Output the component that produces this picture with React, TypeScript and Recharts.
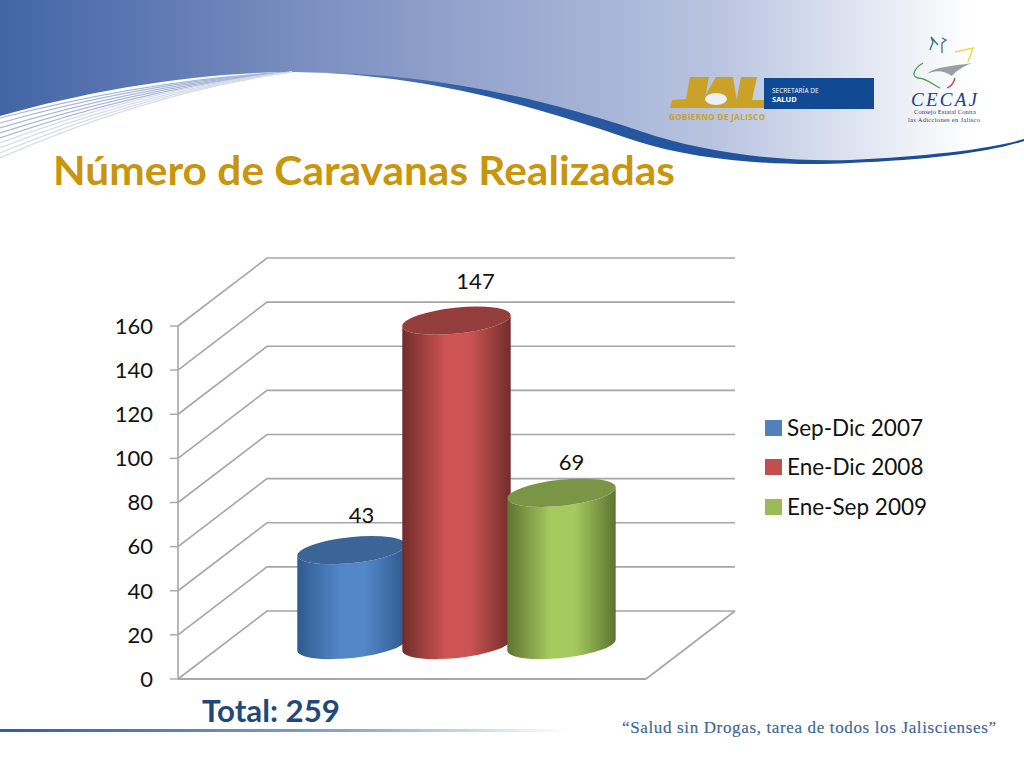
import React from 'react';
import { BarChart, Bar, XAxis, YAxis, CartesianGrid, Legend, LabelList } from 'recharts';

const categories = ['Caravanas'];
const seriesNames = ['Sep-Dic 2007', 'Ene-Dic 2008', 'Ene-Sep 2009'];
const seriesValues = [43, 147, 69];
const seriesKeys = ['a', 'b', 'c'];
const legendColors = ['#4f81bd', '#c0504d', '#9bbb59'];
const edgeColors = ['#2f5a8f', '#702d2b', '#5c7431'];
const midColors = ['#5487c8', '#cd5452', '#a6ca5f'];
const capColors = ['#3c6496', '#933e3c', '#7a9545'];
const yTicks = [0, 20, 40, 60, 80, 100, 120, 140, 160];

const tableRow: Record<string, string | number> = { name: categories[0] };
seriesKeys.forEach((k, i) => {
  tableRow[k] = seriesValues[i];
});
const table = [tableRow];

const LATO = 'Lato, sans-serif';
const GRID = '#a6a6a6';

// 3D projection of the old Excel chart: front plane to back wall
const DEPTH_X = 89;
const DEPTH_Y = 68;
const FRONT_W = 468;
// cylinders stand about half way into the floor
const MID_X = 44;
const MID_Y = 34;
const RY = 13;
const TILT = -6;
const LABEL_NUDGE = [
  { x: 10, y: -35 },
  { x: 19, y: -40 },
  { x: 10, y: -31 },
];

function Cylinder(props: any) {
  const { x, y, width, height, index } = props;
  const i = props.seriesIndex ?? index;
  const cx = x + width / 2 + MID_X;
  const rx = width / 2;
  const rad = (TILT * Math.PI) / 180;
  const ox = rx * Math.cos(rad);
  const oy = rx * Math.sin(rad);
  const top = y - MID_Y;
  const bottom = y + height - MID_Y;
  const side = `M${cx - ox},${top - oy} L${cx - ox},${bottom - oy} A${rx},${RY} ${TILT} 0 0 ${cx + ox},${bottom + oy} L${cx + ox},${top + oy} A${rx},${RY} ${TILT} 0 1 ${cx - ox},${top - oy} Z`;
  return (
    <g>
      <path d={side} fill={`url(#cyl${i})`} />
      <ellipse cx={cx} cy={top} rx={rx} ry={RY} fill={capColors[i]} transform={`rotate(${TILT} ${cx} ${top})`} />
    </g>
  );
}

function WallLine(props: any) {
  const { x1, y1, x2, y2 } = props;
  const backX = x1 + DEPTH_X;
  const backY = y1 - DEPTH_Y;
  const isFloor = Math.abs(y1 - props.floorY) < 1;
  return (
    <g>
      <polyline
        points={`${x1},${y1} ${backX},${backY} ${x2 + DEPTH_X},${backY}`}
        fill="none"
        stroke={GRID}
        strokeWidth={1.6}
      />
      {isFloor && (
        <line x1={x2} y1={y2} x2={x2 + DEPTH_X} y2={backY} stroke={GRID} strokeWidth={1.6} />
      )}
    </g>
  );
}

function LegendBox({ payload }: any) {
  return (
    <div style={{ fontFamily: LATO, fontSize: 22.5, color: '#111' }}>
      {(payload || []).map((p: any) => (
        <div key={p.value} style={{ display: 'flex', alignItems: 'center', height: 39.5 }}>
          <span style={{ width: 17, height: 16, background: p.color, marginRight: 5 }} />
          <span style={{ whiteSpace: 'nowrap', lineHeight: '26px' }}>{p.value}</span>
        </div>
      ))}
    </div>
  );
}

function SlideBackground() {
  const stripes = [0, 1, 2, 3, 4, 5, 6, 7, 8];
  return (
    <svg width={1024} height={768} style={{ position: 'absolute', left: 0, top: 0 }}>
      <defs>
        <linearGradient id="band" x1="0" y1="0" x2="1" y2="0">
          <stop offset="0%" stopColor="#4265a6" />
          <stop offset="30%" stopColor="#7b8ec0" />
          <stop offset="70%" stopColor="#b9c4e0" />
          <stop offset="95%" stopColor="#ffffff" />
        </linearGradient>
        <linearGradient id="swoosh" x1="0" y1="0" x2="1" y2="0">
          <stop offset="0%" stopColor="#6f8cc0" />
          <stop offset="25%" stopColor="#2b5ba3" />
          <stop offset="100%" stopColor="#164a94" />
        </linearGradient>
        <linearGradient id="rule" x1="0" y1="0" x2="1" y2="0">
          <stop offset="0%" stopColor="#2f5ea3" />
          <stop offset="60%" stopColor="#8ba2cc" />
          <stop offset="100%" stopColor="#ffffff" />
        </linearGradient>
      </defs>
      <rect x={0} y={0} width={1024} height={170} fill="url(#band)" />
      <path
        d="M0,116 C90,90 200,72 295,72 C430,72 540,105 640,138 C710,160 790,165 850,162 C930,158 990,150 1024,140 L1024,768 L0,768 Z"
        fill="#fff"
      />
      {stripes.map((s) => (
        <path
          key={s}
          d={`M0,${118 + s * 5} C70,${100 + s * 3.4} 170,${78 + s * 1.4} 292,72`}
          fill="none"
          stroke={s < 5 ? '#a9b8d8' : '#d5dbe8'}
          strokeWidth={1.2}
        />
      ))}
      <path
        d="M295,72 C430,72 540,98 640,131 C710,155 790,162 850,160 C930,156 990,149 1024,139 L1024,141 C990,152 930,160 850,163 C790,166 705,163 636,141 C540,108 430,74 295,72 Z"
        fill="url(#swoosh)"
      />

      <g fill="#c9a227">
        <polygon points="690,77 709,77 703,108 670,108 672,100 686,99" />
        <polygon points="716,77 733,77 738,108 698,108" />
        <polygon points="741,77 757,77 752,100 765,100 765,108 735,108" />
      </g>
      <ellipse cx={716} cy={99} rx={11} ry={6} fill="#eceff7" />
      <rect x={764} y={78} width={110} height={31} fill="#0f4a93" />
      <text x={772} y={93} fontFamily="'Open Sans', sans-serif" fontSize={6.5} fill="#fff">SECRETARÍA DE</text>
      <text x={772} y={102} fontFamily="'Open Sans', sans-serif" fontWeight={700} fontSize={7.5} fill="#fff">SALUD</text>
      <text x={669} y={120} fontFamily="'Open Sans', sans-serif" fontWeight={700} fontSize={8} fill="#c9a227" textLength={96}>GOBIERNO DE JALISCO</text>

      <path d="M930,50 L933,42 L931,37 L938,45 M942,53 L942,43 L946,40 L942,38" fill="none" stroke="#2b6f8f" strokeWidth={1.3} />
      <path d="M955,52 L973,48 L968,62" fill="none" stroke="#e9de3d" strokeWidth={1.6} />
      <path d="M927,74 C936,66 955,66 972,63 C960,68 955,72 952,76 C944,70 935,70 927,74 Z" fill="#9a9fa5" />
      <path d="M923,63 C915,68 910,76 918,78 C926,78 932,84 940,88" fill="none" stroke="#4aa14a" strokeWidth={1.3} />
      <path d="M947,88 C952,86 954,82 955,78" fill="none" stroke="#c8403a" strokeWidth={1.3} />
      <text x={911} y={106} fontFamily="'Liberation Serif', serif" fontStyle="italic" fontSize={19} fill="#1d3f8c" textLength={66}>CECAJ</text>
      <text x={914} y={114} fontFamily="'Liberation Serif', serif" fontSize={6.5} fill="#2c3e6e" textLength={62}>Consejo Estatal Contra</text>
      <text x={908} y={122} fontFamily="'Liberation Serif', serif" fontSize={6.5} fill="#2c3e6e" textLength={72}>las Adicciones en Jalisco</text>

      <text x={53} y={185} fontFamily={LATO} fontWeight={700} fontSize={40} fill="#c8960c" textLength={622} lengthAdjust="spacingAndGlyphs">
        Número de Caravanas Realizadas
      </text>
      <text x={202} y={722} fontFamily={LATO} fontWeight={700} fontSize={31} fill="#1f497d" textLength={138} lengthAdjust="spacingAndGlyphs">
        Total: 259
      </text>
      <rect x={0} y={729} width={570} height={3} fill="url(#rule)" />
      <text x={622} y={733} fontFamily="'Liberation Serif', serif" fontSize={17} fill="#3f6898" stroke="#3f6898" strokeWidth={0.2} textLength={374}>
        “Salud sin Drogas, tarea de todos los Jaliscienses”
      </text>
    </svg>
  );
}

export default function App() {
  return (
    <div style={{ position: 'absolute', left: 0, top: 0, width: 1024, height: 768, background: '#fff', overflow: 'hidden' }}>
      <SlideBackground />
      <div style={{ position: 'absolute', left: 0, top: 0 }}>
        <BarChart
          width={1024}
          height={768}
          data={table}
          barSize={109}
          barGap={-4}
          margin={{ top: 326, right: 1024 - 178 - FRONT_W, bottom: 88, left: 118 }}
        >
          <defs>
            {seriesKeys.map((k, i) => (
              <linearGradient key={k} id={`cyl${i}`} x1="0" y1="0" x2="1" y2="0">
                <stop offset="0%" stopColor={edgeColors[i]} />
                <stop offset="40%" stopColor={midColors[i]} />
                <stop offset="62%" stopColor={midColors[i]} />
                <stop offset="100%" stopColor={edgeColors[i]} />
              </linearGradient>
            ))}
          </defs>
          <CartesianGrid
            vertical={false}
            horizontal={(p: any) => <WallLine key={p.key} {...p} floorY={679} />}
          />
          <XAxis dataKey="name" tick={false} tickLine={false} height={1} axisLine={{ stroke: GRID, strokeWidth: 2 }} />
          <YAxis
            width={60}
            domain={[0, 160]}
            ticks={yTicks}
            interval={0}
            tickSize={8}
            tickMargin={17}
            axisLine={{ stroke: GRID, strokeWidth: 1.6 }}
            tickLine={{ stroke: GRID, strokeWidth: 1.4 }}
            tick={{ fontFamily: LATO, fontSize: 22, fill: '#111' }}
          />
          <Legend
            layout="vertical"
            align="center"
            verticalAlign="middle"
            itemSorter={null}
            wrapperStyle={{ left: 765, top: 408, width: 200 }}
            content={<LegendBox />}
          />
          {seriesKeys.map((k, i) => (
            <Bar
              key={k}
              dataKey={k}
              name={seriesNames[i]}
              fill={legendColors[i]}
              isAnimationActive={false}
              shape={(p: any) => <Cylinder {...p} seriesIndex={i} />}
            >
              <LabelList
                dataKey={k}
                content={(p: any) => (
                  <text
                    x={p.x + p.width / 2 + MID_X + LABEL_NUDGE[i].x}
                    y={p.y - MID_Y + LABEL_NUDGE[i].y + 8}
                    textAnchor="middle"
                    fontFamily={LATO}
                    fontSize={22}
                    fill="#111"
                  >
                    {p.value}
                  </text>
                )}
              />
            </Bar>
          ))}
        </BarChart>
      </div>
    </div>
  );
}
